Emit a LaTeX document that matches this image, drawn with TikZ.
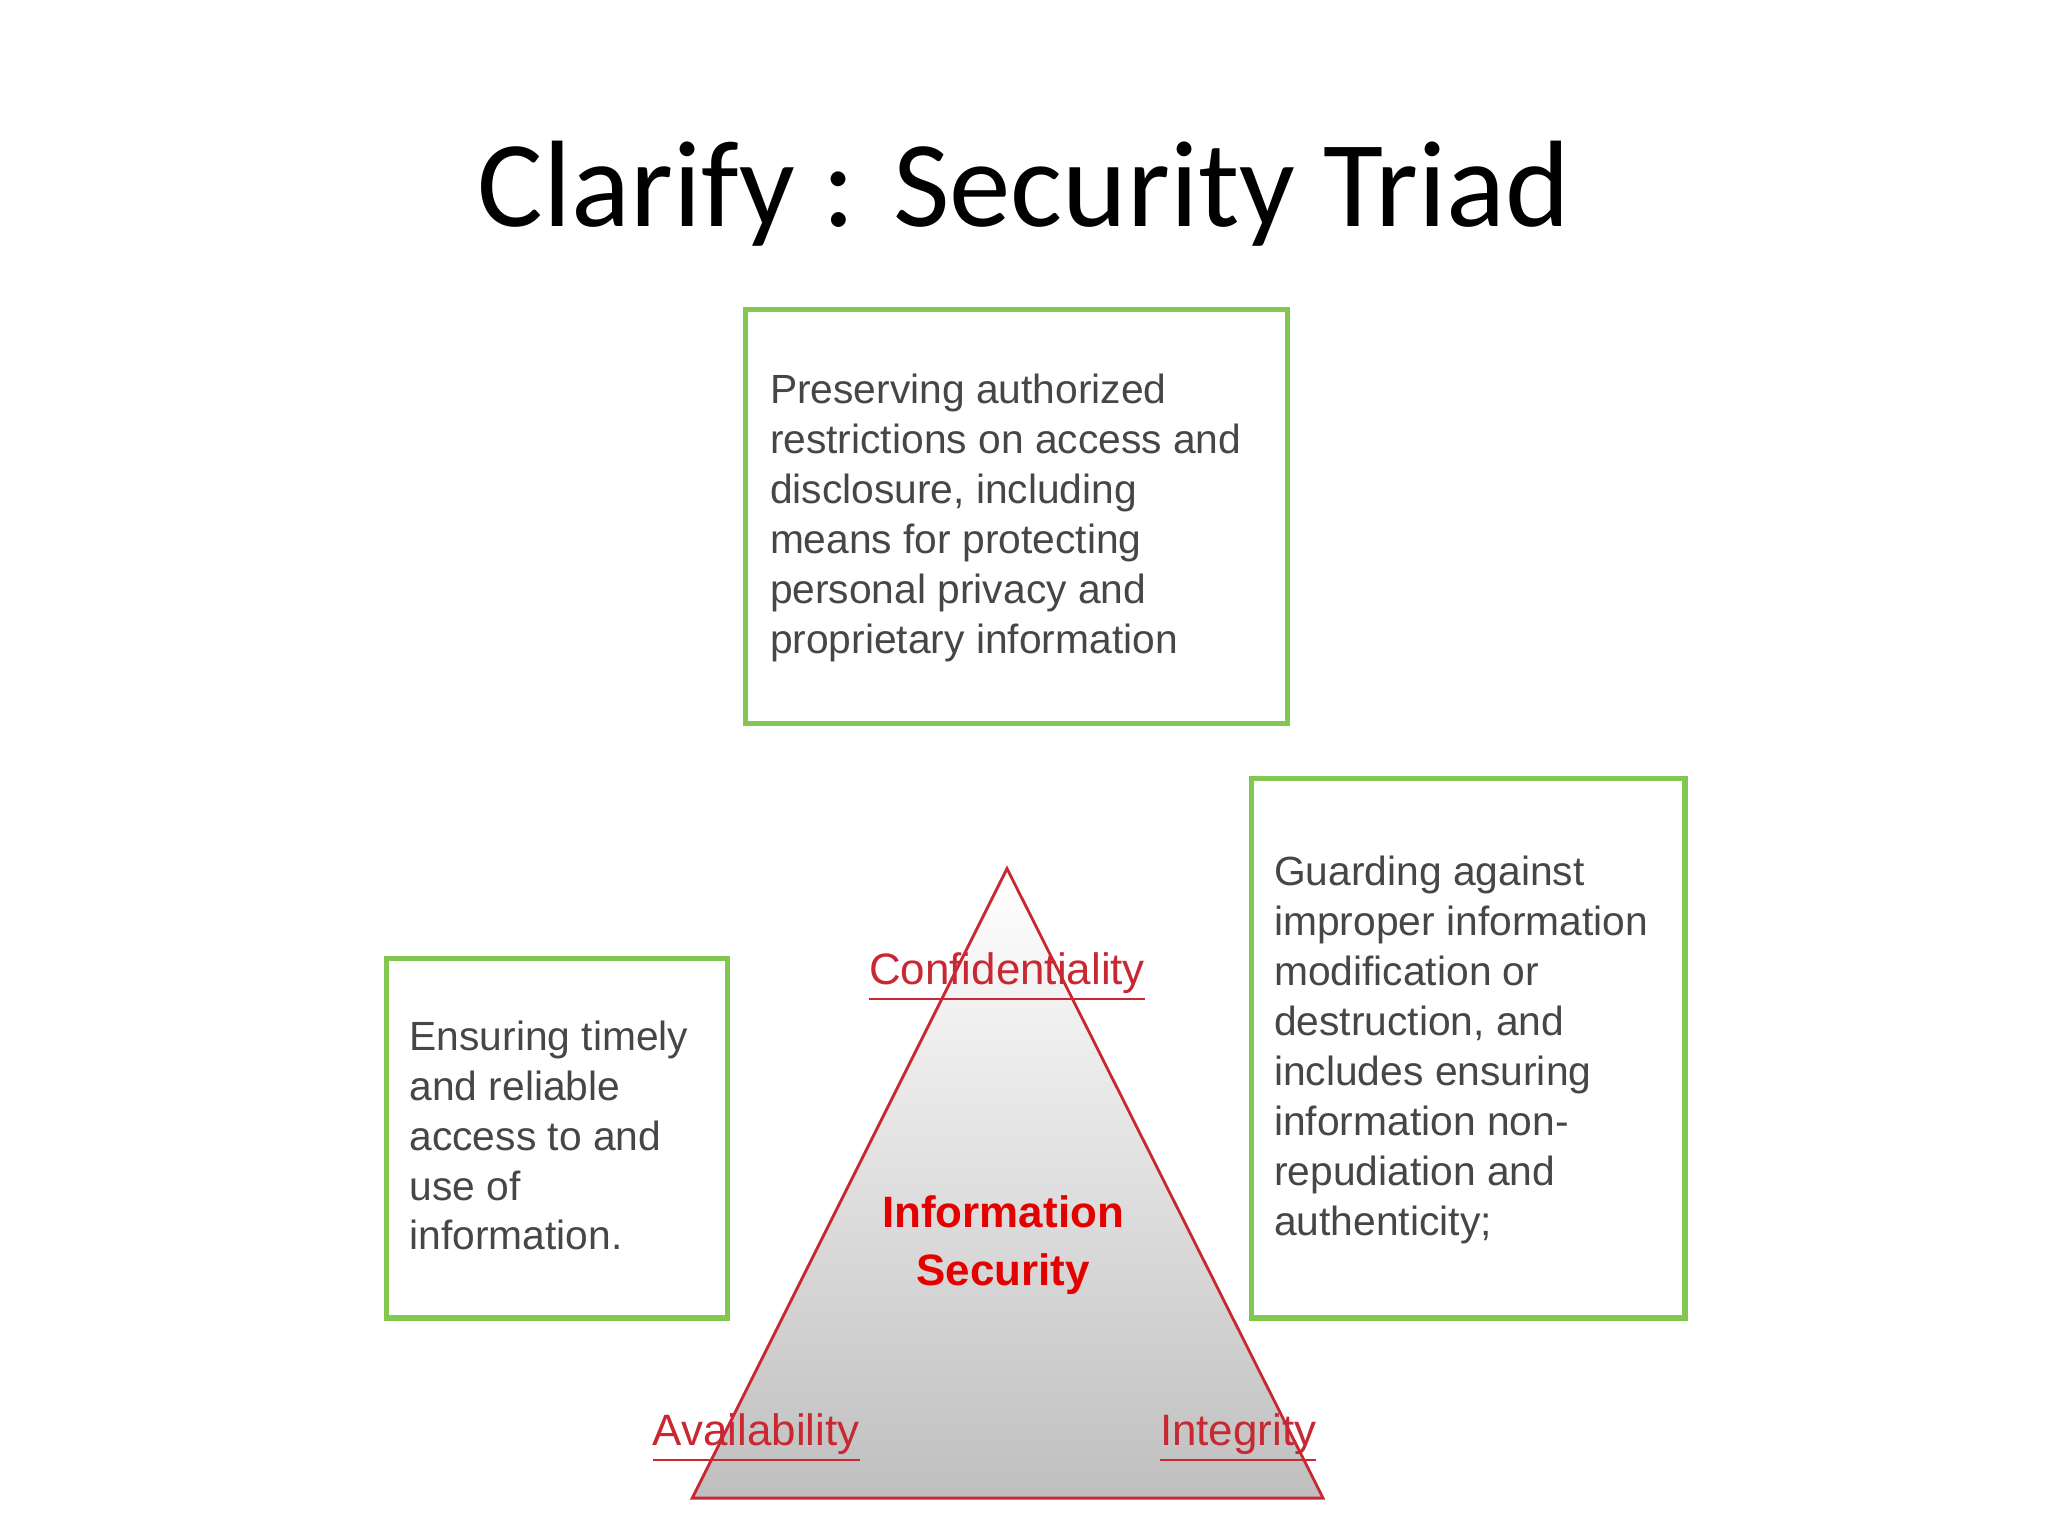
\documentclass[tikz,border=0pt]{standalone}
\usepackage{fontspec}
\setmainfont{Liberation Sans}
\newfontfamily\titlefont{Carlito}
\definecolor{boxgreen}{RGB}{130,200,80}
\definecolor{tred}{RGB}{200,40,50}
\definecolor{txtgray}{RGB}{70,70,70}
\begin{document}
\begin{tikzpicture}[x=0.01306cm,y=-0.01306cm,
  gbox/.style={draw=boxgreen,line width=1.5pt},
  btext/.style={anchor=north west,align=left,inner sep=0pt,text=txtgray,font=\fontsize{11.6}{14.2}\selectfont},
  lab/.style={text=tred,font=\fontsize{12.5}{15}\selectfont,inner sep=0pt}]
\useasboundingbox (0,0) rectangle (1568,1176);
\node[font=\titlefont\fontsize{35}{40}\selectfont] (title) at (784,148) {Clarify : Security Triad};
\draw[gbox] (571,237) rectangle (986,554);
\draw[gbox] (296,734) rectangle (557,1009);
\draw[gbox] (958,596) rectangle (1290,1009);
\node[btext] (tc) at (589,286) {Preserving authorized\\restrictions on access and\\disclosure, including\\means for protecting\\personal privacy and\\proprietary information};
\node[btext] (ta) at (313,781) {Ensuring timely\\and reliable\\access to and\\use of\\information.};
\node[btext] (ti) at (975,655) {Guarding against\\improper information\\modification or\\destruction, and\\includes ensuring\\information non-\\repudiation and\\authenticity;};
\shade[top color=white,bottom color=black!25,draw=tred,line width=0.8pt] (771,665) -- (1013,1147) -- (530,1147) -- cycle;
\node[lab] (c) at (771,748) {\underline{Confidentiality}};
\node[lab] (a) at (579,1101) {\underline{Availability}};
\node[lab] (i) at (948,1101) {\underline{Integrity}};
\node[text=red!90!black,font=\bfseries\fontsize{12.5}{16.5}\selectfont,align=center] (is) at (768,953) {Information\\Security};
\end{tikzpicture}
\end{document}
